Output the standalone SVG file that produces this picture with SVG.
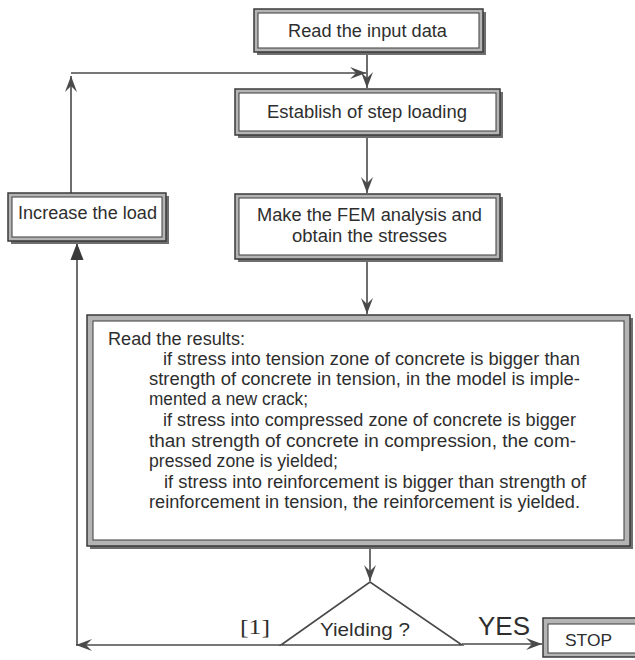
<svg xmlns="http://www.w3.org/2000/svg" width="635" height="660" viewBox="0 0 635 660">
<style>
.bg{fill:#ffffff}
.sh{fill:#6e6e6e}
.band{fill:#b4b4b4;stroke:#3a3a3a;stroke-width:1.5}
.in{fill:#ffffff;stroke:#4a4a4a;stroke-width:1.1}
.t{font-family:"Liberation Sans",Arial,sans-serif;font-size:17.5px;fill:#2e2e2e}
.bt{font-family:"Liberation Sans",Arial,sans-serif;font-size:17px;fill:#2e2e2e}
.ln{fill:none;stroke:#4a4a4a;stroke-width:1.6}
.tri{fill:#ffffff;stroke:#4a4a4a;stroke-width:1.6}
</style>
<defs>
<marker id="ah" viewBox="-17 -7 18 14" refX="0" refY="0" markerWidth="18" markerHeight="14" orient="auto" markerUnits="userSpaceOnUse">
<path d="M0,0 L-16,-6 L-10,0 L-16,6 Z" fill="#4a4a4a"/>
</marker>
<marker id="ft" viewBox="-18 -8 19 16" refX="0" refY="0" markerWidth="19" markerHeight="16" orient="auto" markerUnits="userSpaceOnUse">
<path d="M0,0 L-17,-6.5 L-17,6.5 Z" fill="#3a3a3a"/>
</marker>
</defs>
<rect class="bg" x="0" y="0" width="635" height="660"/>

<g id="connectors">
<path class="ln" d="M367,55 V88" marker-end="url(#ah)"/>
<path class="ln" d="M367,138 V193" marker-end="url(#ah)"/>
<path class="ln" d="M367,262 V314" marker-end="url(#ah)"/>
<path class="ln" d="M370,549 V581" marker-end="url(#ah)"/>
<path class="ln" d="M71,193 V76" marker-end="url(#ah)"/>
<path class="ln" d="M71,73 H366" marker-end="url(#ah)"/>
<path class="ln" d="M281,645 H76" marker-end="url(#ah)"/>
<path class="ln" d="M77,645 V243" marker-end="url(#ft)"/>
<path class="ln" d="M462,644 H542" marker-end="url(#ah)"/>
</g>

<g id="read_input">
<rect class="sh" x="257" y="12" width="229" height="43"/>
<rect class="band" x="254" y="9" width="229" height="43"/>
<rect class="in" x="258" y="13" width="221" height="35"/>
<text class="t" x="288" y="37" textLength="159" lengthAdjust="spacingAndGlyphs">Read the input data</text>
</g>

<g id="establish">
<rect class="sh" x="238" y="92" width="265" height="46"/>
<rect class="band" x="235" y="89" width="265" height="46"/>
<rect class="in" x="239" y="93" width="257" height="38"/>
<text class="t" x="267" y="118" textLength="200" lengthAdjust="spacingAndGlyphs">Establish of step loading</text>
</g>

<g id="fem">
<rect class="sh" x="238" y="197" width="265" height="65"/>
<rect class="band" x="235" y="194" width="265" height="65"/>
<rect class="in" x="239" y="198" width="257" height="57"/>
<text class="t" x="257" y="221" textLength="225" lengthAdjust="spacingAndGlyphs">Make the FEM analysis and</text>
<text class="t" x="292" y="242" textLength="155" lengthAdjust="spacingAndGlyphs">obtain the stresses</text>
</g>

<g id="increase">
<rect class="sh" x="11" y="196" width="158" height="48"/>
<rect class="band" x="8" y="193" width="158" height="48"/>
<rect class="in" x="12" y="197" width="150" height="40"/>
<text class="t" x="18" y="219" textLength="139" lengthAdjust="spacingAndGlyphs">Increase the load</text>
</g>

<g id="results">
<rect class="sh" x="90" y="318" width="543" height="231"/>
<rect class="band" x="87" y="315" width="543" height="231"/>
<rect class="in" x="93" y="321" width="531" height="219"/>
<text class="t" x="108" y="345" textLength="137" lengthAdjust="spacingAndGlyphs">Read the results:</text>
<text class="t" x="163" y="365" textLength="417" lengthAdjust="spacingAndGlyphs">if stress into tension zone of concrete is bigger than</text>
<text class="t" x="149" y="385" textLength="431" lengthAdjust="spacingAndGlyphs">strength of concrete in tension, in the model is imple-</text>
<text class="t" x="149" y="405" textLength="159" lengthAdjust="spacingAndGlyphs">mented a new crack;</text>
<text class="t" x="163" y="426" textLength="413" lengthAdjust="spacingAndGlyphs">if stress into compressed zone of concrete is bigger</text>
<text class="t" x="149" y="447" textLength="427" lengthAdjust="spacingAndGlyphs">than strength of concrete  in  compression, the  com-</text>
<text class="t" x="149" y="467" textLength="189" lengthAdjust="spacingAndGlyphs">pressed  zone is yielded;</text>
<text class="t" x="164" y="488" textLength="422" lengthAdjust="spacingAndGlyphs">if stress into reinforcement is bigger than strength of</text>
<text class="t" x="149" y="508" textLength="431" lengthAdjust="spacingAndGlyphs">reinforcement in tension, the reinforcement is yielded.</text>
</g>

<g id="yielding">
<polygon class="tri" points="281,645 370,582 462,645"/>
<text x="320" y="636" textLength="90" lengthAdjust="spacingAndGlyphs" style="font-family:'Liberation Sans',Arial,sans-serif;font-size:19px;fill:#2e2e2e">Yielding ?</text>
</g>

<g id="labels">
<text x="240" y="634" textLength="30" lengthAdjust="spacingAndGlyphs" style="font-family:'Liberation Serif','Times New Roman',serif;font-size:21px;fill:#2e2e2e">[1]</text>
<text x="478" y="635" textLength="52" lengthAdjust="spacingAndGlyphs" style="font-family:'Liberation Sans',Arial,sans-serif;font-size:25px;fill:#2e2e2e">YES</text>
</g>

<g id="stop">
<rect class="band" x="543" y="618" width="100" height="39"/>
<rect class="in" x="548" y="624" width="95" height="29"/>
<text class="bt" x="565" y="646" textLength="47" lengthAdjust="spacingAndGlyphs">STOP</text>
</g>
</svg>
